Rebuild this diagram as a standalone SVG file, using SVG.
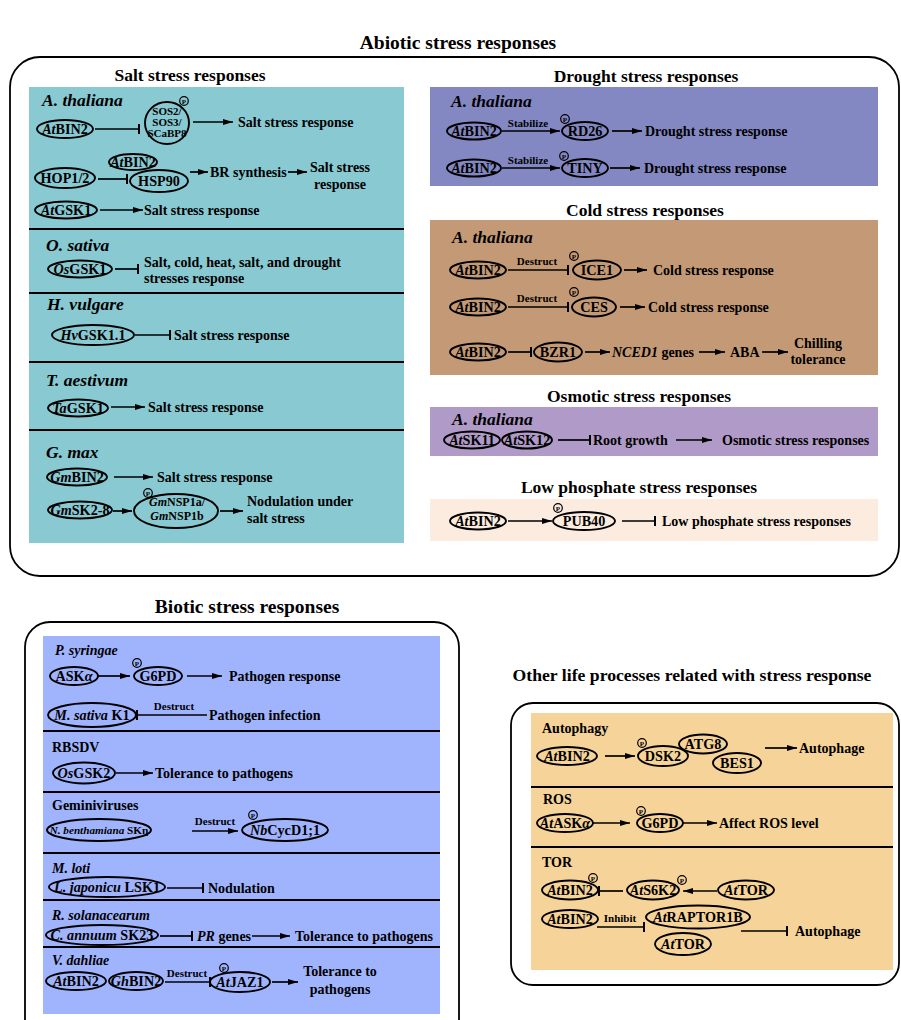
<svg xmlns="http://www.w3.org/2000/svg" xmlns:xlink="http://www.w3.org/1999/xlink" width="901" height="1020" viewBox="0 0 901 1020">
<style>
text{font-family:"Liberation Serif","Times New Roman",serif;font-weight:bold;fill:#000}
.h1{font-size:19.5px;text-anchor:middle}
.h2{font-size:17.5px;text-anchor:middle}
.sp{font-size:17.5px;font-style:italic}
.sp2{font-size:14px;font-style:italic}
.sh{font-size:14px}
.t{font-size:14px}
.tm{font-size:14px;text-anchor:middle}
.n{font-size:14.2px;text-anchor:middle}
.ns{font-size:11px;text-anchor:middle}
.lb{font-size:11px;text-anchor:middle}
.i{font-style:italic}
.e{fill:none;stroke:#000;stroke-width:1.9}
.c{fill:none;stroke:#000;stroke-width:1.7}
.a{marker-end:url(#arr)}
.b{marker-end:url(#tee)}
.box{fill:none;stroke:#000;stroke-width:1.8}
.dv{stroke:#000;stroke-width:2}
</style>
<defs>
<marker id="arr" viewBox="0 0 10 6" refX="10" refY="3" markerWidth="10" markerHeight="6" markerUnits="userSpaceOnUse" orient="auto"><path d="M0,0L10,3L0,6z" fill="#000"/></marker>
<marker id="tee" viewBox="0 0 2 10" refX="1" refY="5" markerWidth="2" markerHeight="10" markerUnits="userSpaceOnUse" orient="auto"><rect x="0" y="0" width="2" height="10" fill="#000"/></marker>
<g id="pm"><circle cx="0" cy="0" r="4.3" fill="none" stroke="#000" stroke-width="1.2"/><text x="0" y="2.5" style="font-size:7px;text-anchor:middle">P</text></g>
</defs>

<!-- Abiotic -->
<g id="abiotic">
<text class="h1" x="458" y="49">Abiotic stress responses</text>
<rect class="box" x="10" y="57" width="889" height="519" rx="30"/>
<text class="h2" x="190" y="81">Salt stress responses</text>
<rect x="29" y="87" width="375" height="456" fill="#88c9d2"/>
<line class="dv" x1="29" y1="229" x2="404" y2="229"/>
<line class="dv" x1="29" y1="293" x2="404" y2="293"/>
<line class="dv" x1="29" y1="362" x2="404" y2="362"/>
<line class="dv" x1="29" y1="430" x2="404" y2="430"/>
<text class="h2" x="646" y="82">Drought stress responses</text>
<rect x="430" y="87" width="448" height="99" fill="#8488c2"/>
<text class="h2" x="645" y="216">Cold stress responses</text>
<rect x="430" y="220" width="448" height="155" fill="#c49a76"/>
<text class="h2" x="639" y="402">Osmotic stress responses</text>
<rect x="430" y="407" width="448" height="49" fill="#b09ac7"/>
<text class="h2" x="639" y="493">Low phosphate stress responses</text>
<rect x="430" y="499" width="448" height="42" fill="#fcecdf"/>
</g>

<!-- Biotic -->
<g id="biotic">
<text class="h1" x="247" y="613">Biotic stress responses</text>
<rect class="box" x="25" y="622" width="434" height="430" rx="25"/>
<rect x="43" y="636" width="397" height="378" fill="#a0b4fe"/>
<line class="dv" x1="43" y1="731" x2="440" y2="731"/>
<line class="dv" x1="43" y1="792" x2="440" y2="792"/>
<line class="dv" x1="43" y1="853" x2="440" y2="853"/>
<line class="dv" x1="43" y1="900" x2="440" y2="900"/>
<line class="dv" x1="43" y1="947" x2="440" y2="947"/>
</g>

<!-- Other -->
<g id="other">
<text class="h2" x="692" y="681" style="font-size:17.7px">Other life processes related with stress response</text>
<rect class="box" x="511" y="703" width="388" height="282" rx="22"/>
<rect x="531" y="713" width="362" height="257" fill="#f6d399"/>
<line class="dv" x1="531" y1="787" x2="893" y2="787"/>
<line class="dv" x1="531" y1="847" x2="893" y2="847"/>
</g>

<!-- Headers / texts -->
<g id="labels">
<text class="sp" x="42" y="106">A. thaliana</text>
<text class="sp" x="46" y="251">O. sativa</text>
<text class="sp" x="47" y="310">H. vulgare</text>
<text class="sp" x="46" y="386">T. aestivum</text>
<text class="sp" x="46" y="458">G. max</text>
<text class="sp" x="451" y="107">A. thaliana</text>
<text class="sp" x="452" y="243">A. thaliana</text>
<text class="sp" x="452" y="425">A. thaliana</text>
<text class="sp2" x="55" y="655">P. syringae</text>
<text class="sh" x="52" y="752">RBSDV</text>
<text class="sh" x="52" y="810">Geminiviruses</text>
<text class="sp2" x="52" y="873">M. loti</text>
<text class="sp2" x="52" y="920">R. solanacearum</text>
<text class="sp2" x="52" y="965">V. dahliae</text>
<text class="sh" x="542" y="733">Autophagy</text>
<text class="sh" x="543" y="804">ROS</text>
<text class="sh" x="542" y="867">TOR</text>

<text class="t" x="238" y="127">Salt stress response</text>
<text class="t" x="210" y="177">BR synthesis</text>
<text class="tm" x="340" y="172">Salt stress</text>
<text class="tm" x="340" y="189">response</text>
<text class="t" x="144" y="215">Salt stress response</text>
<text class="t" x="144" y="267">Salt, cold, heat, salt, and drought</text>
<text class="t" x="144" y="283">stresses response</text>
<text class="t" x="174" y="340">Salt stress response</text>
<text class="t" x="148" y="412">Salt stress response</text>
<text class="t" x="157" y="482">Salt stress response</text>
<text class="t" x="247" y="506">Nodulation under</text>
<text class="t" x="247" y="523">salt stress</text>

<text class="t" x="645" y="136">Drought stress response</text>
<text class="t" x="644" y="173">Drought stress response</text>
<text class="t" x="653" y="275">Cold stress response</text>
<text class="t" x="648" y="312">Cold stress response</text>
<text class="t" x="612" y="357"><tspan class="i">NCED1</tspan> genes</text>
<text class="t" x="730" y="357">ABA</text>
<text class="tm" x="818" y="348">Chilling</text>
<text class="tm" x="818" y="364">tolerance</text>
<text class="t" x="593" y="445">Root growth</text>
<text class="t" x="722" y="445">Osmotic stress responses</text>
<text class="t" x="662" y="526">Low phosphate stress responses</text>

<text class="t" x="229" y="681">Pathogen response</text>
<text class="t" x="209" y="720">Pathogen infection</text>
<text class="t" x="155" y="778">Tolerance to pathogens</text>
<text class="t" x="208" y="893">Nodulation</text>
<text class="t" x="197" y="941"><tspan class="i">PR</tspan> genes</text>
<text class="t" x="295" y="941">Tolerance to pathogens</text>
<text class="tm" x="340" y="976">Tolerance to</text>
<text class="tm" x="340" y="994">pathogens</text>

<text class="t" x="799" y="753">Autophage</text>
<text class="t" x="719" y="828">Affect ROS level</text>
<text class="t" x="795" y="936">Autophage</text>

<text class="lb" x="528" y="127">Stabilize</text>
<text class="lb" x="528" y="164">Stabilize</text>
<text class="lb" x="537" y="265">Destruct</text>
<text class="lb" x="537" y="302">Destruct</text>
<text class="lb" x="174" y="710">Destruct</text>
<text class="lb" x="215" y="825">Destruct</text>
<text class="lb" x="187" y="977">Destruct</text>
<text class="lb" x="620" y="922">Inhibit</text>
</g>

<!-- Nodes: Salt -->
<g id="n-salt-atbin2-a"><ellipse class="e" cx="65" cy="129" rx="28" ry="9"/><text class="n" x="65" y="134"><tspan class="i">At</tspan>BIN2</text></g>
<g id="n-sos"><ellipse class="e" cx="167" cy="123" rx="22" ry="21"/><text class="ns" x="167" y="115">SOS2/</text><text class="ns" x="167" y="126">SOS3/</text><text class="ns" x="167" y="137">SCaBP8</text><use xlink:href="#pm" x="184" y="101"/></g>
<g id="n-hop"><ellipse class="e" cx="65" cy="178" rx="30" ry="10"/><text class="n" x="65" y="183">HOP1/2</text></g>
<g id="n-salt-atbin2-b"><ellipse class="e" cx="133" cy="162" rx="24" ry="8"/><text class="n" x="133" y="167"><tspan class="i">At</tspan>BIN2</text></g>
<g id="n-hsp90"><ellipse class="e" cx="159" cy="181" rx="29" ry="11"/><text class="n" x="159" y="186">HSP90</text></g>
<g id="n-atgsk1"><ellipse class="e" cx="66" cy="210" rx="31" ry="8.5"/><text class="n" x="66" y="215"><tspan class="i">At</tspan>GSK1</text></g>
<g id="n-osgsk1"><ellipse class="e" cx="80" cy="269" rx="32" ry="8.5"/><text class="n" x="80" y="274"><tspan class="i">Os</tspan>GSK1</text></g>
<g id="n-hvgsk"><ellipse class="e" cx="93" cy="335" rx="41" ry="10"/><text class="n" x="93" y="340"><tspan class="i">Hv</tspan>GSK1.1</text></g>
<g id="n-tagsk1"><ellipse class="e" cx="78" cy="408" rx="30" ry="8.5"/><text class="n" x="78" y="413"><tspan class="i">Ta</tspan>GSK1</text></g>
<g id="n-gmbin2"><ellipse class="e" cx="77" cy="477" rx="30" ry="8.5"/><text class="n" x="77" y="482"><tspan class="i">Gm</tspan>BIN2</text></g>
<g id="n-gmsk"><ellipse class="e" cx="80" cy="510" rx="32" ry="8.5"/><text class="n" x="80" y="515"><tspan class="i">Gm</tspan>SK2-8</text></g>
<g id="n-gmnsp"><ellipse class="e" cx="176" cy="511" rx="42" ry="17"/><text style="font-size:12px;text-anchor:middle" x="177" y="506"><tspan class="i">Gm</tspan>NSP1a/</text><text style="font-size:12px;text-anchor:middle" x="177" y="520"><tspan class="i">Gm</tspan>NSP1b</text><use xlink:href="#pm" x="148" y="493"/></g>

<!-- Nodes: Drought -->
<g id="n-dr-atbin2-a"><ellipse class="e" cx="474" cy="131" rx="27" ry="8.5"/><text class="n" x="474" y="136"><tspan class="i">At</tspan>BIN2</text></g>
<g id="n-rd26"><ellipse class="e" cx="585" cy="131" rx="23" ry="9"/><text class="n" x="585" y="136">RD26</text><use xlink:href="#pm" x="565" y="119"/></g>
<g id="n-dr-atbin2-b"><ellipse class="e" cx="474" cy="168" rx="27" ry="8.5"/><text class="n" x="474" y="173"><tspan class="i">At</tspan>BIN2</text></g>
<g id="n-tiny"><ellipse class="e" cx="585" cy="168" rx="23" ry="9"/><text class="n" x="585" y="173">TINY</text><use xlink:href="#pm" x="564" y="156"/></g>

<!-- Nodes: Cold -->
<g id="n-co-atbin2-a"><ellipse class="e" cx="478" cy="270" rx="28" ry="8.5"/><text class="n" x="478" y="275"><tspan class="i">At</tspan>BIN2</text></g>
<g id="n-ice1"><ellipse class="e" cx="597" cy="270" rx="24" ry="9.5"/><text class="n" x="597" y="275">ICE1</text><use xlink:href="#pm" x="574" y="256"/></g>
<g id="n-co-atbin2-b"><ellipse class="e" cx="478" cy="307" rx="28" ry="8.5"/><text class="n" x="478" y="312"><tspan class="i">At</tspan>BIN2</text></g>
<g id="n-ces"><ellipse class="e" cx="594" cy="307" rx="22" ry="9.5"/><text class="n" x="594" y="312">CES</text><use xlink:href="#pm" x="574" y="292"/></g>
<g id="n-co-atbin2-c"><ellipse class="e" cx="478" cy="352" rx="28" ry="8.5"/><text class="n" x="478" y="357"><tspan class="i">At</tspan>BIN2</text></g>
<g id="n-bzr1"><ellipse class="e" cx="558" cy="352" rx="24" ry="9.5"/><text class="n" x="558" y="357">BZR1</text></g>

<!-- Nodes: Osmotic / Low phosphate -->
<g id="n-atsk11"><ellipse class="e" cx="472" cy="440" rx="28" ry="8.5"/><text class="n" x="472" y="445"><tspan class="i">At</tspan>SK11</text></g>
<g id="n-atsk12"><ellipse class="e" cx="527" cy="440" rx="25" ry="8.5"/><text class="n" x="527" y="445"><tspan class="i">At</tspan>SK12</text></g>
<g id="n-lp-atbin2"><ellipse class="e" cx="478" cy="521" rx="28" ry="8.5"/><text class="n" x="478" y="526"><tspan class="i">At</tspan>BIN2</text></g>
<g id="n-pub40"><ellipse class="e" cx="584" cy="521" rx="31" ry="9"/><text class="n" x="584" y="526">PUB40</text><use xlink:href="#pm" x="558" y="508"/></g>

<!-- Nodes: Biotic -->
<g id="n-askalpha"><ellipse class="e" cx="74" cy="676" rx="24" ry="9"/><text class="n" x="74" y="681">ASK<tspan class="i">α</tspan></text></g>
<g id="n-bi-g6pd"><ellipse class="e" cx="158" cy="676" rx="24" ry="9"/><text class="n" x="158" y="681">G6PD</text><use xlink:href="#pm" x="137" y="663"/></g>
<g id="n-msk1"><ellipse class="e" cx="92" cy="715" rx="44" ry="12"/><text class="n" x="92" y="720"><tspan class="i">M. sativa</tspan> K1</text></g>
<g id="n-osgsk2"><ellipse class="e" cx="84" cy="773" rx="31" ry="10.5"/><text class="n" x="84" y="778"><tspan class="i">Os</tspan>GSK2</text></g>
<g id="n-nbsk"><ellipse class="e" cx="99" cy="830" rx="52" ry="11"/><text style="font-size:11.2px;text-anchor:middle" x="99" y="834"><tspan class="i">N. benthamiana</tspan> SKη</text></g>
<g id="n-nbcyc"><ellipse class="e" cx="285" cy="830" rx="43" ry="11"/><text class="n" x="285" y="835"><tspan class="i">Nb</tspan>CycD1;1</text><use xlink:href="#pm" x="253" y="815"/></g>
<g id="n-ljlsk1"><ellipse class="e" cx="107" cy="887" rx="58" ry="10"/><text class="n" x="107" y="892"><tspan class="i">L. japonicu</tspan> LSK1</text></g>
<g id="n-casj"><ellipse class="e" cx="102" cy="935" rx="56" ry="10"/><text class="n" x="102" y="940"><tspan class="i">C. annuum</tspan> SK23</text></g>
<g id="n-bi-atbin2"><ellipse class="e" cx="76" cy="981" rx="30" ry="9"/><text class="n" x="76" y="986"><tspan class="i">At</tspan>BIN2</text></g>
<g id="n-ghbin2"><ellipse class="e" cx="136" cy="981" rx="27" ry="9"/><text class="n" x="136" y="986"><tspan class="i">Gh</tspan>BIN2</text></g>
<g id="n-atjaz1"><ellipse class="e" cx="240" cy="982" rx="30" ry="10"/><text class="n" x="240" y="987"><tspan class="i">At</tspan>JAZ1</text><use xlink:href="#pm" x="224" y="968"/></g>

<!-- Nodes: Other -->
<g id="n-au-atbin2"><ellipse class="e" cx="567" cy="756" rx="30" ry="9"/><text class="n" x="567" y="761"><tspan class="i">At</tspan>BIN2</text></g>
<g id="n-dsk2"><ellipse class="e" cx="663" cy="756" rx="25" ry="10"/><text class="n" x="663" y="761">DSK2</text><use xlink:href="#pm" x="642" y="743"/></g>
<g id="n-atg8"><ellipse class="e" cx="703" cy="744" rx="24" ry="9.5"/><text class="n" x="703" y="749">ATG8</text></g>
<g id="n-bes1"><ellipse class="e" cx="737" cy="763" rx="24" ry="10"/><text class="n" x="737" y="768">BES1</text></g>
<g id="n-atask"><ellipse class="e" cx="565" cy="823" rx="28" ry="9"/><text class="n" x="565" y="828"><tspan class="i">At</tspan>ASK<tspan class="i">α</tspan></text></g>
<g id="n-ro-g6pd"><ellipse class="e" cx="660" cy="823" rx="23" ry="9"/><text class="n" x="660" y="828">G6PD</text><use xlink:href="#pm" x="641" y="811"/></g>
<g id="n-tor-atbin2-a"><ellipse class="e" cx="570" cy="890" rx="28" ry="9.5"/><text class="n" x="570" y="895"><tspan class="i">At</tspan>BIN2</text><use xlink:href="#pm" x="593" y="878"/></g>
<g id="n-ats6k2"><ellipse class="e" cx="653" cy="890" rx="26" ry="9.5"/><text class="n" x="653" y="895"><tspan class="i">At</tspan>S6K2</text><use xlink:href="#pm" x="682" y="880"/></g>
<g id="n-attor-a"><ellipse class="e" cx="746" cy="890" rx="28" ry="9.5"/><text class="n" x="746" y="895"><tspan class="i">At</tspan>TOR</text></g>
<g id="n-tor-atbin2-b"><ellipse class="e" cx="570" cy="919" rx="28" ry="9"/><text class="n" x="570" y="924"><tspan class="i">At</tspan>BIN2</text></g>
<g id="n-raptor"><ellipse class="e" cx="698" cy="917" rx="52" ry="11.5"/><text class="n" x="698" y="922"><tspan class="i">At</tspan>RAPTOR1B</text></g>
<g id="n-attor-b"><ellipse class="e" cx="683" cy="944" rx="28" ry="11"/><text class="n" x="683" y="949"><tspan class="i">At</tspan>TOR</text></g>

<!-- Connectors -->
<g id="connectors">
<line class="c b" x1="95" y1="129" x2="139" y2="129"/>
<line class="c a" x1="193" y1="122" x2="233" y2="122"/>
<line class="c b" x1="98" y1="179" x2="127" y2="179"/>
<line class="c a" x1="190" y1="172" x2="208" y2="172"/>
<line class="c a" x1="288" y1="172" x2="307" y2="172"/>
<line class="c a" x1="100" y1="210" x2="143" y2="210"/>
<line class="c b" x1="115" y1="269" x2="138" y2="269"/>
<line class="c b" x1="135" y1="335" x2="170" y2="335"/>
<line class="c a" x1="111" y1="407" x2="145" y2="407"/>
<line class="c a" x1="114" y1="477" x2="153" y2="477"/>
<line class="c a" x1="113" y1="511" x2="132" y2="511"/>
<line class="c a" x1="220" y1="511" x2="243" y2="511"/>

<line class="c a" x1="502" y1="131" x2="560" y2="131"/>
<line class="c a" x1="612" y1="131" x2="642" y2="131"/>
<line class="c a" x1="502" y1="168" x2="560" y2="168"/>
<line class="c a" x1="610" y1="168" x2="640" y2="168"/>

<line class="c b" x1="508" y1="270" x2="568" y2="270"/>
<line class="c a" x1="624" y1="270" x2="647" y2="270"/>
<line class="c b" x1="508" y1="307" x2="568" y2="307"/>
<line class="c a" x1="620" y1="307" x2="645" y2="307"/>
<line class="c b" x1="508" y1="352" x2="531" y2="352"/>
<line class="c a" x1="585" y1="352" x2="610" y2="352"/>
<line class="c a" x1="699" y1="352" x2="725" y2="352"/>
<line class="c a" x1="762" y1="352" x2="788" y2="352"/>

<line class="c b" x1="558" y1="440" x2="590" y2="440"/>
<line class="c a" x1="676" y1="440" x2="712" y2="440"/>
<line class="c a" x1="508" y1="521" x2="552" y2="521"/>
<line class="c b" x1="622" y1="521" x2="655" y2="521"/>

<line class="c a" x1="98" y1="676" x2="130" y2="676"/>
<line class="c a" x1="187" y1="676" x2="222" y2="676"/>
<line class="c b" x1="207" y1="715" x2="137" y2="715"/>
<line class="c a" x1="116" y1="773" x2="153" y2="773"/>
<line class="c a" x1="192" y1="831" x2="238" y2="831"/>
<line class="c b" x1="167" y1="888" x2="203" y2="888"/>
<line class="c b" x1="160" y1="936" x2="192" y2="936"/>
<line class="c a" x1="252" y1="936" x2="290" y2="936"/>
<line class="c b" x1="165" y1="982" x2="210" y2="982"/>
<line class="c a" x1="272" y1="982" x2="298" y2="982"/>

<line class="c a" x1="605" y1="756" x2="635" y2="756"/>
<line class="c a" x1="765" y1="748" x2="797" y2="748"/>
<line class="c a" x1="593" y1="823" x2="630" y2="823"/>
<line class="c a" x1="683" y1="823" x2="717" y2="823"/>
<line class="c b" x1="623" y1="891" x2="599" y2="891"/>
<line class="c a" x1="717" y1="891" x2="683" y2="891"/>
<line class="c b" x1="597" y1="927" x2="644" y2="927"/>
<line class="c b" x1="741" y1="931" x2="787" y2="931"/>
</g>
</svg>
